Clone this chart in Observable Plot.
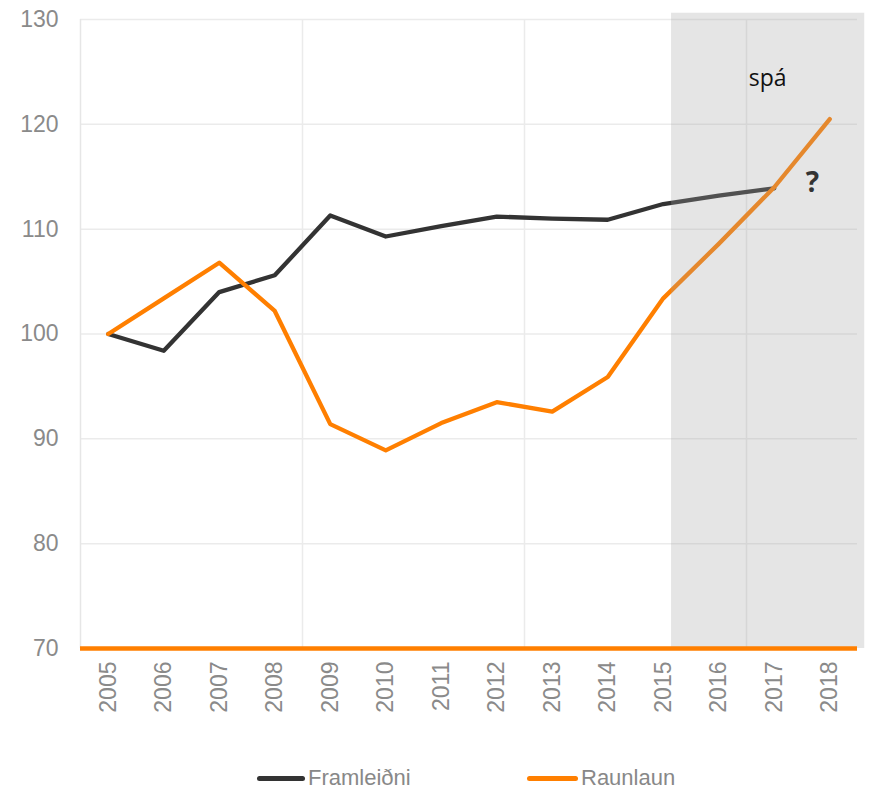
<!DOCTYPE html>
<html>
<head>
<meta charset="utf-8">
<script src="https://cdn.jsdelivr.net/npm/d3@7"></script>
<script src="https://cdn.jsdelivr.net/npm/@observablehq/plot@0.6"></script>
<style>
  body { margin: 0; background: #fff; font-family: "Liberation Sans", Arial, sans-serif; }
  #legend { position: relative; height: 61px; }
  .item { position: absolute; top: 36px; display: flex; align-items: center; font-size: 22px; color: #888; line-height: 24px; }
  .sw { width: 48px; height: 5px; border-radius: 3px; margin-right: 3px; }
</style>
</head>
<body>
<div id="chart"></div>
<div id="legend"></div>
<script>
const years = [2005, 2006, 2007, 2008, 2009, 2010, 2011, 2012, 2013, 2014, 2015, 2016, 2017, 2018];
const framleidni = [100, 98.4, 104.0, 105.6, 111.3, 109.3, 110.3, 111.2, 111.0, 110.9, 112.4, 113.2, 113.9, null];
const raunlaun = [100, 103.4, 106.8, 102.2, 91.4, 88.9, 91.5, 93.5, 92.6, 95.9, 103.4, 108.6, 114.0, 120.5];
const yTicks = [70, 80, 90, 100, 110, 120, 130];
const vGrid = [2008.5, 2012.5, 2016.5];
const seriesNames = ["Framleiðni", "Raunlaun"];
const seriesColors = ["#333333", "#ff7f00"];
// forecast band (spá)
const forecastStart = 2015.15, forecastEnd = 2018.63, forecastTop = 130.6;
const spaNote = [{label: "spá", year: 2016.88, value: 123.7}];
const questionNote = [{label: "?", year: 2017.69, value: 113.5}];

const rows = [];
years.forEach((yr, i) => {
  rows.push({year: yr, value: framleidni[i], series: seriesNames[0]});
  rows.push({year: yr, value: raunlaun[i], series: seriesNames[1]});
});

const chart = Plot.plot({
  width: 872,
  height: 730,
  marginLeft: 80,
  marginRight: 15,
  marginTop: 19,
  marginBottom: 82,
  style: {fontFamily: "'Liberation Sans', Arial, sans-serif", fontSize: "23px", color: "#888", background: "#fff"},
  x: {type: "linear", domain: [years[0] - 0.5, years[years.length - 1] + 0.5]},
  y: {domain: [70, 130]},
  color: {domain: seriesNames, range: seriesColors},
  marks: [
    Plot.ruleY(yTicks.filter(d => d > 70), {stroke: "#ebebeb", strokeWidth: 1.5}),
    Plot.ruleX(vGrid, {stroke: "#ebebeb", strokeWidth: 1.5}),
    Plot.ruleX([years[0] - 0.5], {stroke: "#e6e6e6", strokeWidth: 1.5}),
    Plot.line(rows, {x: "year", y: "value", z: "series", stroke: "series", strokeWidth: 4.3, curve: "linear"}),
    Plot.rect([{}], {x1: forecastStart, x2: forecastEnd, y1: 70, y2: forecastTop, fill: "#a0a0a0", fillOpacity: 0.28, clip: false}),
    Plot.ruleY([70], {stroke: "#ff7f00", strokeWidth: 4.5}),
    Plot.axisY(yTicks, {tickSize: 0, tickPadding: 22, fill: "#8a8a8a", label: null, fontSize: 23}),
    Plot.axisX(years, {tickSize: 0, tickPadding: 13, tickRotate: -90, tickFormat: d => String(d), fill: "#8a8a8a", label: null, fontSize: 23}),
    Plot.text(spaNote, {x: "year", y: "value", text: "label", fill: "#111", fontSize: 23, lineAnchor: "bottom", fontFamily: "'Open Sans', sans-serif", textAnchor: "middle"}),
    Plot.text(questionNote, {x: "year", y: "value", text: "label", fill: "#333", fontSize: 28, fontWeight: "bold", lineAnchor: "bottom", fontFamily: "'Open Sans', sans-serif", textAnchor: "middle"})
  ]
});
document.getElementById("chart").appendChild(chart);

const legend = document.getElementById("legend");
const lefts = [257, 527];
seriesNames.forEach((name, i) => {
  const it = document.createElement("div");
  it.className = "item";
  it.style.left = lefts[i] + "px";
  const sw = document.createElement("div");
  sw.className = "sw";
  sw.style.background = seriesColors[i];
  sw.style.width = (i === 0 ? 48 : 51) + "px";
  const t = document.createElement("span");
  t.textContent = name;
  it.appendChild(sw);
  it.appendChild(t);
  legend.appendChild(it);
});
</script>
</body>
</html>
